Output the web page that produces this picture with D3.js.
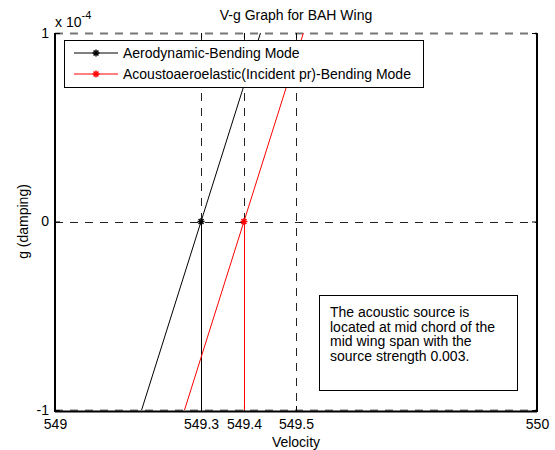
<!DOCTYPE html>
<html>
<head>
<meta charset="utf-8">
<script src="https://cdn.jsdelivr.net/npm/d3@7"></script>
<style>
body { margin:0; background:#fff; }
text { font-family:"Liberation Sans", Arial, sans-serif; }
</style>
</head>
<body>
<div id="chart"></div>
<script>
// chart values
var xTickValues = [549, 549.303, 549.392, 549.5, 550];
var xTickLabels = ["549", "549.3", "549.4", "549.5", "550"];
var yTickValues = [-1e-4, 0, 1e-4];
var yTickLabels = ["-1", "0", "1"];

var aeroVelocity = [549.155, 549.303, 549.451];
var aeroDamping = [-1.2e-4, 0, 1.2e-4];
var acousVelocity = [549.244, 549.392, 549.540];
var acousDamping = [-1.2e-4, 0, 1.2e-4];

var seriesNames = ["Aerodynamic-Bending Mode", "Acoustoaeroelastic(Incident pr)-Bending Mode"];
var noteLines = ["The acoustic source is", "located at mid chord of the", "mid wing span with the", "source strength 0.003."];

var iWidth = 555, iHeight = 450;
var iLeft = 55, iRight = 537, iTop = 33, iBottom = 410;

var svg = d3.select("#chart").append("svg")
	.attr("width", iWidth)
	.attr("height", iHeight);

svg.append("rect").attr("width", iWidth).attr("height", iHeight).attr("fill", "#fff");

var xAxes = d3.scaleLinear().domain([549, 550]).range([iLeft, iRight]);
var yAxes = d3.scaleLinear().domain([-1e-4, 1e-4]).range([iBottom, iTop]);

svg.append("clipPath").attr("id", "plotClip")
	.append("rect").attr("x", iLeft).attr("y", iTop)
	.attr("width", iRight - iLeft).attr("height", iBottom - iTop);

// dashed grid
var gGrid = svg.append("g").attr("stroke", "#222").attr("stroke-dasharray", "8,7").attr("stroke-width", 1);
xTickValues.slice(1, -1).forEach(function(v) {
	gGrid.append("line")
		.attr("x1", Math.round(xAxes(v)) + 0.5).attr("x2", Math.round(xAxes(v)) + 0.5)
		.attr("y1", iTop).attr("y2", iBottom);
});
yTickValues.forEach(function(v) {
	gGrid.append("line")
		.attr("x1", iLeft).attr("x2", iRight)
		.attr("y1", Math.round(yAxes(v)) + 0.5).attr("y2", Math.round(yAxes(v)) + 0.5)
		.attr("stroke", v === 0 ? "#222" : "#777")
		.attr("stroke-width", v === 0 ? 1 : 2);
});

// frame (top edge is left dashed)
var gFrame = svg.append("g").attr("stroke", "#000").attr("stroke-width", 2).attr("fill", "none");
gFrame.append("line").attr("x1", iLeft).attr("x2", iLeft).attr("y1", iTop).attr("y2", iBottom + 2);
gFrame.append("line").attr("x1", iRight).attr("x2", iRight).attr("y1", iTop).attr("y2", iBottom + 2);
gFrame.append("line").attr("x1", iLeft).attr("x2", iRight).attr("y1", iBottom + 1.5).attr("y2", iBottom + 1.5);

// inward ticks
var xAxis = d3.axisBottom(xAxes).tickValues(xTickValues)
	.tickFormat(function(d, i) { return xTickLabels[i]; })
	.tickSize(-5).tickPadding(8);
var gx = svg.append("g").attr("transform", "translate(0," + (iBottom + 1) + ")").call(xAxis);
gx.select(".domain").remove();
gx.selectAll("line").attr("stroke", "#000");
gx.selectAll("text").attr("font-size", 14).attr("fill", "#000");

var xAxisTop = d3.axisTop(xAxes).tickValues(xTickValues).tickFormat("").tickSize(-5);
var gxt = svg.append("g").attr("transform", "translate(0," + iTop + ")").call(xAxisTop);
gxt.select(".domain").remove();
gxt.selectAll("line").attr("stroke", "#000");

var yAxis = d3.axisLeft(yAxes).tickValues(yTickValues)
	.tickFormat(function(d, i) { return yTickLabels[i]; })
	.tickSize(-5).tickPadding(6);
var gy = svg.append("g").attr("transform", "translate(" + iLeft + ",0)").call(yAxis);
gy.select(".domain").remove();
gy.selectAll("line").attr("stroke", "#000");
gy.selectAll("text").attr("font-size", 14).attr("fill", "#000");

var yAxisRight = d3.axisRight(yAxes).tickValues(yTickValues).tickFormat("").tickSize(-5);
var gyr = svg.append("g").attr("transform", "translate(" + iRight + ",0)").call(yAxisRight);
gyr.select(".domain").remove();
gyr.selectAll("line").attr("stroke", "#000");

// series
var aeroData = aeroVelocity.map(function(v, i) { return [v, aeroDamping[i]]; });
var acousData = acousVelocity.map(function(v, i) { return [v, acousDamping[i]]; });
var lineGen = d3.line().x(function(d) { return xAxes(d[0]); }).y(function(d) { return yAxes(d[1]); });

var gPlot = svg.append("g").attr("clip-path", "url(#plotClip)");

function asterisk(g, cx, cy, color) {
	var r = 3.5;
	for (var k = 0; k < 4; k++) {
		var a = k * Math.PI / 4;
		g.append("line")
			.attr("x1", cx - r * Math.cos(a)).attr("y1", cy - r * Math.sin(a))
			.attr("x2", cx + r * Math.cos(a)).attr("y2", cy + r * Math.sin(a))
			.attr("stroke", color).attr("stroke-width", 1.5);
	}
}

[[aeroData, "#000"], [acousData, "#ff0000"]].forEach(function(s) {
	gPlot.append("path").datum(s[0])
		.attr("d", lineGen).attr("fill", "none")
		.attr("stroke", s[1]).attr("stroke-width", 1);
	// drop line from zero crossing down to the lower limit
	var cross = s[0][1];
	gPlot.append("line")
		.attr("x1", Math.round(xAxes(cross[0])) + 0.5).attr("x2", Math.round(xAxes(cross[0])) + 0.5)
		.attr("y1", yAxes(cross[1])).attr("y2", yAxes(-1e-4))
		.attr("stroke", s[1]).attr("stroke-width", 1);
	s[0].forEach(function(d) { asterisk(gPlot, xAxes(d[0]), yAxes(d[1]), s[1]); });
});

// titles
svg.append("text").attr("x", 296).attr("y", 20).attr("text-anchor", "middle")
	.attr("font-size", 14).text("V-g Graph for BAH Wing");
var tExp = svg.append("text").attr("x", 55).attr("y", 27).attr("font-size", 14);
tExp.append("tspan").text("x 10");
tExp.append("tspan").attr("dy", -8).attr("font-size", 11).text("-4");
svg.append("text").attr("x", 296).attr("y", 447).attr("text-anchor", "middle")
	.attr("font-size", 14).text("Velocity");
svg.append("text").attr("transform", "translate(28," + ((iTop + iBottom) / 2) + ") rotate(-90)")
	.attr("text-anchor", "middle").attr("font-size", 14).text("g (damping)");

// legend
var gLegend = svg.append("g");
gLegend.append("rect").attr("x", 64.5).attr("y", 40.5).attr("width", 359).attr("height", 47)
	.attr("fill", "#fff").attr("stroke", "#000").attr("stroke-width", 1);
["#000", "#ff0000"].forEach(function(c, i) {
	var yy = 53 + i * 21;
	gLegend.append("line").attr("x1", 74).attr("x2", 118).attr("y1", yy).attr("y2", yy)
		.attr("stroke", c).attr("stroke-width", 1);
	asterisk(gLegend, 96, yy, c);
	gLegend.append("text").attr("x", 123).attr("y", yy + 5).attr("font-size", 14).text(seriesNames[i]);
});

// annotation
var gNote = svg.append("g");
gNote.append("rect").attr("x", 319.5).attr("y", 295.5).attr("width", 198).attr("height", 95)
	.attr("fill", "#fff").attr("stroke", "#000").attr("stroke-width", 1);
noteLines.forEach(function(t, i) {
	gNote.append("text").attr("x", 330).attr("y", 317 + i * 14.6).attr("font-size", 14).text(t);
});
</script>
</body>
</html>
